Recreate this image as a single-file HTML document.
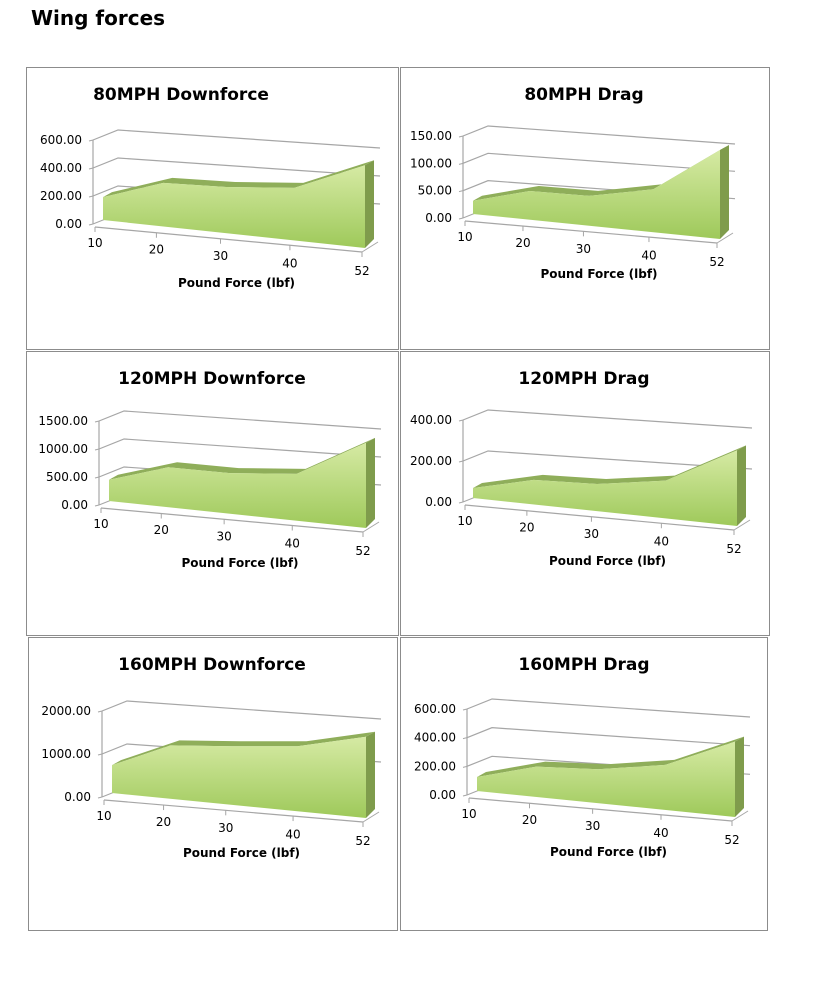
<!DOCTYPE html>
<html><head><meta charset="utf-8"><style>
body{margin:0;background:#fff;width:821px;height:985px;overflow:hidden;font-family:"Liberation Sans",sans-serif}
svg{position:absolute;left:0;top:0}
</style></head><body>
<svg id="s" width="821" height="985" xmlns="http://www.w3.org/2000/svg" font-family="DejaVu Sans, Liberation Sans, sans-serif">
<defs>
<linearGradient id="g" x1="0" y1="0" x2="0" y2="1">
<stop offset="0" stop-color="#d6eaa4"/><stop offset="1" stop-color="#9ec95a"/></linearGradient>
</defs>
<text x="31" y="25" font-size="20" font-weight="bold">Wing forces</text>
</svg>
<script>
var s=document.getElementById('s');var h='';
var C=[
{p:[26,67,372,282],t:"80MPH Downforce",tx:181,ty:100,ax:93,yT:140,y0:224,lab:["0.00","200.00","400.00","600.00"],d:[.32,.49,.44,.43,.70],bx:362,by:277},
{p:[400,67,369,282],t:"80MPH Drag",tx:584,ty:100,ax:463,yT:136,y0:218,lab:["0.00","50.00","100.00","150.00"],d:[.21,.33,.27,.35,.83],bx:717,by:268},
{p:[26,351,372,284],t:"120MPH Downforce",tx:212,ty:384,ax:99,yT:421,y0:505,lab:["0.00","500.00","1000.00","1500.00"],d:[.30,.45,.38,.37,.74],bx:363,by:557},
{p:[400,351,369,284],t:"120MPH Drag",tx:584,ty:384,ax:463,yT:420,y0:502,lab:["0.00","200.00","400.00"],d:[.17,.27,.22,.26,.63],bx:734,by:555},
{p:[28,637,369,293],t:"160MPH Downforce",tx:212,ty:670,ax:102,yT:711,y0:797,lab:["0.00","1000.00","2000.00"],d:[.37,.60,.59,.59,.70],bx:363,by:847},
{p:[400,637,367,293],t:"160MPH Drag",tx:584,ty:670,ax:467,yT:709,y0:795,lab:["0.00","200.00","400.00","600.00"],d:[.21,.33,.30,.35,.62],bx:732,by:846}
];
var T=[0,.23,.47,.73,1],cats=["10","20","30","40","52"];
C.forEach(function(c){
 var p=c.p;h+='<rect x="'+(p[0]+.5)+'" y="'+(p[1]+.5)+'" width="'+p[2]+'" height="'+p[3]+'" fill="#fff" stroke="#8c8c8c"/>';
 h+='<text x="'+c.tx+'" y="'+c.ty+'" font-size="17" font-weight="bold" text-anchor="middle">'+c.t+'</text>';
 var n=c.lab.length-1,ax=c.ax,rx=c.bx+18;
 for(var i=0;i<=n;i++){var y=c.y0+(c.yT-c.y0)*i/n;
  h+='<text x="'+(ax-11)+'" y="'+(y+4)+'" font-size="12" text-anchor="end">'+c.lab[i]+'</text>';
  if(i>0) h+='<polyline points="'+ax+','+y+' '+(ax+25)+','+(y-10)+' '+rx+','+(y+8)+'" fill="none" stroke="#a6a6a6" stroke-width="1.2"/>';
  h+='<line x1="'+(ax-4)+'" y1="'+(y+1)+'" x2="'+ax+'" y2="'+y+'" stroke="#a6a6a6"/>';
 }
 h+='<line x1="'+ax+'" y1="'+c.y0+'" x2="'+ax+'" y2="'+c.yT+'" stroke="#a6a6a6" stroke-width="1.2"/>';
 h+='<line x1="'+ax+'" y1="'+c.y0+'" x2="'+(ax+25)+'" y2="'+(c.y0-10)+'" stroke="#a6a6a6"/>';
 var fx0=ax+2,fy0=c.y0+3,fx1=c.bx,fy1=c.by-25;
 h+='<line x1="'+fx0+'" y1="'+fy0+'" x2="'+fx1+'" y2="'+fy1+'" stroke="#a6a6a6" stroke-width="1.2"/>';
 h+='<line x1="'+fx1+'" y1="'+fy1+'" x2="'+(rx-2)+'" y2="'+(fy1-10)+'" stroke="#a6a6a6"/>';
 for(var k=0;k<5;k++){var t=T[k];var x=fx0+(fx1-fx0)*t,y=fy0+(fy1-fy0)*t;
  h+='<line x1="'+x+'" y1="'+y+'" x2="'+x+'" y2="'+(y+5)+'" stroke="#a6a6a6"/>';
  h+='<text x="'+(x)+'" y="'+(y+20+t*3)+'" font-size="12" text-anchor="middle">'+cats[k]+'</text>';}
 h+='<text x="'+((fx0+fx1)/2+8)+'" y="'+(c.by+10)+'" font-size="12" font-weight="bold" text-anchor="middle">Pound Force (lbf)</text>';
 var L=ax+10,R=fx1+3,b0=c.y0-4,b1=fy1-4,H=(c.y0-c.yT);
 var top=[];
 for(var k=0;k<5;k++){var t=T[k];var x=L+(R-L)*t;top.push([x,c.y0-c.d[k]*H]);}
 var dx=9,dy=-5;
 var st='';top.forEach(function(q){st+=q[0]+','+q[1]+' ';});
 for(var k=4;k>=0;k--)st+=(top[k][0]+dx)+','+(top[k][1]+dy)+' ';
 h+='<polygon points="'+st+'" fill="#8fae5a"/>';
 h+='<polygon points="'+R+','+b1+' '+(R+dx)+','+(b1-9)+' '+(R+dx)+','+(top[4][1]+dy)+' '+R+','+top[4][1]+'" fill="#7f9c4c"/>';
 var fp=L+','+b0+' ';top.forEach(function(q){fp+=q[0]+','+q[1]+' ';});fp+=R+','+b1;
 h+='<polygon points="'+fp+'" fill="url(#g)"/>';
});
s.insertAdjacentHTML('beforeend',h);
</script>
</body></html>
